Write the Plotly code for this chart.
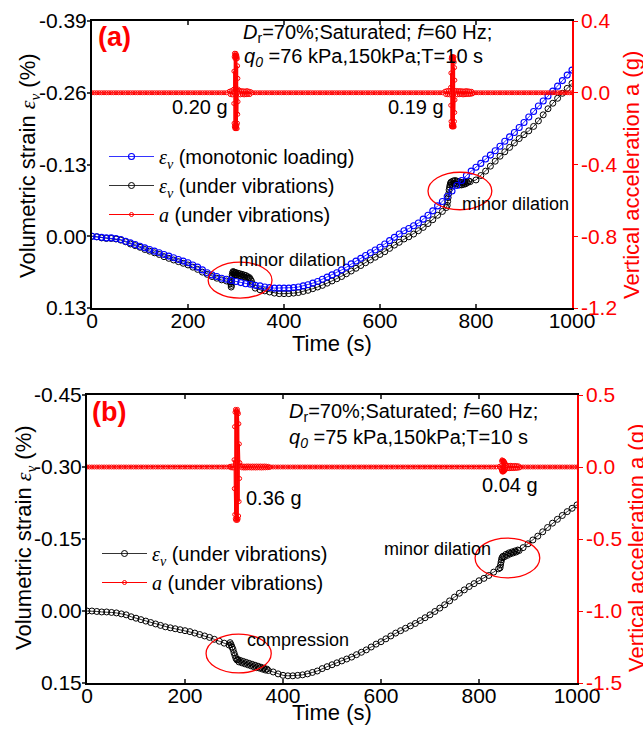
import plotly.graph_objects as go

W, H = 643, 734
FONT = "Liberation Sans, Arial, sans-serif"
EPS = '<span style="font-family:Liberation Serif;font-style:italic">ε<sub>v</sub></span>'
A_I = '<span style="font-family:Liberation Serif;font-style:italic">a</span>'

# ================= DATA =================
# ---- panel (a) ----
t_a_mono = list(range(0, 1001, 10))
eps_a_mono = [
    0.000, 0.001, 0.002, 0.003, 0.003, 0.004, 0.006, 0.009, 0.012, 0.015,
    0.018, 0.021, 0.024, 0.027, 0.030, 0.033, 0.036, 0.039, 0.042, 0.045,
    0.048, 0.052, 0.056, 0.061, 0.066, 0.070, 0.073, 0.076, 0.078, 0.080,
    0.082, 0.084, 0.086, 0.087, 0.089, 0.090, 0.092, 0.093, 0.094, 0.094,
    0.094, 0.094, 0.093, 0.092, 0.090, 0.088, 0.085, 0.082, 0.078, 0.074,
    0.070, 0.066, 0.061, 0.056, 0.050, 0.045, 0.040, 0.035, 0.030, 0.025,
    0.020, 0.014, 0.008, 0.002, -0.004, -0.010, -0.014, -0.019, -0.024, -0.031,
    -0.038, -0.046, -0.055, -0.063, -0.072, -0.082, -0.092, -0.101, -0.110, -0.118,
    -0.125, -0.132, -0.140, -0.147, -0.155, -0.163, -0.172, -0.180, -0.188, -0.197,
    -0.206, -0.216, -0.226, -0.236, -0.245, -0.254, -0.263, -0.272, -0.282, -0.292,
    -0.301]

t_a_vib_1 = list(range(0, 281, 10))
eps_a_vib_1 = [0.000, 0.001, 0.003, 0.004, 0.004, 0.005, 0.007, 0.010, 0.014, 0.017,
               0.020, 0.024, 0.027, 0.030, 0.033, 0.037, 0.040, 0.043, 0.046, 0.049,
               0.052, 0.056, 0.060, 0.065, 0.069, 0.073, 0.076, 0.079, 0.081]
t_a_blob_1 = [288, 289, 290, 290.5, 291, 291.5, 292, 293, 294, 295, 296, 297, 298, 299, 300,
              302, 304, 306, 308, 310, 312, 314, 316, 318, 320, 322, 324, 326, 328, 330, 332, 334]
eps_a_blob_1 = [0.083, 0.086, 0.092, 0.089, 0.082, 0.075, 0.070, 0.066, 0.064, 0.068, 0.065,
                0.069, 0.066, 0.070, 0.066, 0.070, 0.067, 0.071, 0.068, 0.072, 0.069, 0.073,
                0.070, 0.074, 0.071, 0.075, 0.073, 0.076, 0.075, 0.078, 0.081, 0.086]
t_a_vib_2 = list(range(340, 731, 10))
eps_a_vib_2 = [0.094, 0.097, 0.099, 0.101, 0.103, 0.104, 0.104, 0.104, 0.103, 0.102,
               0.100, 0.098, 0.095, 0.092, 0.089, 0.085, 0.081, 0.077, 0.073, 0.068,
               0.063, 0.058, 0.053, 0.048, 0.043, 0.038, 0.033, 0.028, 0.022, 0.016,
               0.011, 0.005, 0.001, -0.004, -0.010, -0.016, -0.023, -0.030, -0.038, -0.045]
t_a_blob_2 = [738, 740, 741, 742, 743, 744, 745, 746, 747, 748, 750, 752, 754, 756, 758,
              760, 762, 764, 766, 768, 770, 772, 774, 776, 778, 780, 782, 785, 788]
eps_a_blob_2 = [-0.052, -0.056, -0.063, -0.070, -0.077, -0.084, -0.089, -0.093, -0.096, -0.098,
                -0.094, -0.100, -0.096, -0.101, -0.095, -0.100, -0.094, -0.099, -0.093, -0.098,
                -0.093, -0.097, -0.094, -0.098, -0.095, -0.099, -0.097, -0.100, -0.099]
t_a_vib_3 = list(range(800, 1001, 10))
eps_a_vib_3 = [-0.102, -0.110, -0.118, -0.127, -0.136, -0.145, -0.153, -0.161, -0.169, -0.177,
               -0.184, -0.191, -0.199, -0.209, -0.220, -0.231, -0.241, -0.250, -0.259, -0.268,
               -0.277]

# acceleration (g), panel (a)
t_a_spike_1 = [295 + 0.3 * i for i in range(33)]
acc_a_spike_1 = [0.02, -0.06, 0.12, -0.17, 0.20, -0.19, 0.22, -0.18, 0.21, -0.20, 0.19,
                 -0.19, 0.21, -0.20, 0.20, -0.18, 0.22, -0.19, 0.20, -0.20, 0.19, -0.19,
                 0.21, -0.18, 0.20, -0.20, 0.19, -0.17, 0.15, -0.12, 0.08, -0.05, 0.02]
t_a_band_1 = [286, 288, 290, 292, 307, 309, 311, 313, 315, 317, 319, 321, 323, 325, 327, 329, 331]
acc_a_band_1 = [0.008, -0.010, 0.012, -0.012, 0.014, -0.012, 0.012, -0.010, 0.011, -0.012,
                0.010, -0.011, 0.012, -0.010, 0.009, -0.010, 0.006]
t_a_spike_2 = [747 + 0.3 * i for i in range(33)]
acc_a_spike_2 = [0.03, -0.07, 0.11, -0.16, 0.19, -0.18, 0.20, -0.19, 0.19, -0.18, 0.20,
                 -0.19, 0.18, -0.19, 0.20, -0.17, 0.19, -0.19, 0.20, -0.18, 0.19, -0.19,
                 0.18, -0.18, 0.20, -0.19, 0.17, -0.16, 0.14, -0.11, 0.07, -0.04, 0.01]
t_a_band_2 = [735, 737, 739, 741, 743, 745, 759, 761, 763, 765, 767, 769, 771, 773, 775,
              777, 779, 781, 783, 785, 787, 789, 791, 793]
acc_a_band_2 = [0.008, -0.010, 0.012, -0.011, 0.013, -0.012, 0.013, -0.012, 0.012, -0.011,
                0.012, -0.010, 0.011, -0.012, 0.010, -0.011, 0.012, -0.010, 0.011, -0.010,
                0.009, -0.009, 0.008, -0.006]

# ---- panel (b) ----
t_b_vib_1 = list(range(0, 291, 10))
eps_b_vib_1 = [0.000, 0.000, 0.001, 0.002, 0.002, 0.003, 0.004, 0.006, 0.008, 0.012,
               0.015, 0.018, 0.021, 0.024, 0.027, 0.030, 0.033, 0.035, 0.037, 0.039,
               0.041, 0.043, 0.046, 0.049, 0.052, 0.055, 0.059, 0.063, 0.067, 0.071]
t_b_blob_1 = [292, 294, 296, 298, 300, 302, 304, 306, 308, 310, 313, 316, 319, 322, 325,
              328, 331, 334, 337, 340, 343, 346, 349, 352, 355, 358, 361, 364, 367, 370]
eps_b_blob_1 = [0.066, 0.070, 0.075, 0.080, 0.087, 0.093, 0.099, 0.102, 0.101, 0.106, 0.103,
                0.108, 0.105, 0.110, 0.107, 0.112, 0.109, 0.114, 0.111, 0.116, 0.113, 0.118,
                0.115, 0.119, 0.117, 0.121, 0.119, 0.123, 0.121, 0.124]
t_b_vib_2 = list(range(380, 841, 10))
eps_b_vib_2 = [0.127, 0.131, 0.134, 0.135, 0.135, 0.134, 0.133, 0.131, 0.128, 0.125,
               0.120, 0.116, 0.112, 0.108, 0.104, 0.100, 0.096, 0.091, 0.086, 0.081,
               0.075, 0.069, 0.064, 0.058, 0.052, 0.046, 0.041, 0.036, 0.031, 0.026,
               0.020, 0.014, 0.008, 0.001, -0.006, -0.013, -0.021, -0.029, -0.037, -0.044,
               -0.051, -0.057, -0.063, -0.068, -0.074, -0.081, -0.088]
t_b_blob_2 = [843, 844, 845, 846, 847, 849, 852, 855, 858, 861, 864, 867, 870, 873, 876, 879, 882]
eps_b_blob_2 = [-0.090, -0.096, -0.102, -0.107, -0.111, -0.114, -0.113, -0.118, -0.116, -0.121,
                -0.119, -0.123, -0.121, -0.125, -0.123, -0.127, -0.126]
t_b_vib_3 = list(range(890, 1001, 10))
eps_b_vib_3 = [-0.132, -0.140, -0.148, -0.156, -0.165, -0.174, -0.183, -0.191, -0.199,
               -0.207, -0.214, -0.221]

t_b_spike_1 = [300 + 0.5 * i for i in range(25)]
acc_b_spike_1 = [0.05, -0.15, 0.28, -0.33, 0.38, -0.36, 0.40, -0.37, 0.39, -0.35, 0.38,
                 -0.37, 0.39, -0.36, 0.40, -0.37, 0.38, -0.36, 0.37, -0.34, 0.30, -0.24,
                 0.16, -0.08, 0.03]
t_b_band_1 = [292, 294, 296, 298] + list(range(314, 373, 2))
acc_b_band_1 = [0.005, -0.006, 0.007, -0.007,
                0.007, -0.006, 0.007, -0.007, 0.006, -0.007, 0.007, -0.006, 0.007, -0.006,
                0.006, -0.007, 0.007, -0.006, 0.006, -0.007, 0.007, -0.006, 0.006, -0.006,
                0.007, -0.007, 0.006, -0.006, 0.007, -0.006, 0.006, -0.005, 0.005, -0.004]
t_b_spike_2 = [845 + 0.5 * i for i in range(21)]
acc_b_spike_2 = [0.01, -0.02, 0.04, -0.03, 0.05, -0.035, 0.045, -0.03, 0.04, -0.035, 0.045,
                 -0.03, 0.04, -0.03, 0.035, -0.025, 0.03, -0.02, 0.02, -0.015, 0.01]
t_b_band_2 = [841, 843] + list(range(857, 885, 2))
acc_b_band_2 = [0.004, -0.005, 0.012, -0.012, 0.011, -0.012, 0.012, -0.011, 0.010, -0.011,
                0.011, -0.010, 0.010, -0.009, 0.008, -0.006]

# ticks
x_ticks = [0, 200, 400, 600, 800, 1000]
ya_ticks = [-0.39, -0.26, -0.13, 0.00, 0.13]
ya_text = ['-0.39', '-0.26', '-0.13', '0.00', '0.13']
aa_ticks = [0.4, 0.0, -0.4, -0.8, -1.2]
aa_text = ['0.4', '0.0', '-0.4', '-0.8', '-1.2']
yb_ticks = [-0.45, -0.30, -0.15, 0.00, 0.15]
yb_text = ['-0.45', '-0.30', '-0.15', '0.00', '0.15']
ab_ticks = [0.5, 0.0, -0.5, -1.0, -1.5]
ab_text = ['0.5', '0.0', '-0.5', '-1.0', '-1.5']

# ================= BUILD =================
def cat(*pairs):
    xs, ys = [], []
    for tt, vv in pairs:
        assert len(tt) == len(vv), (len(tt), len(vv))
        xs += list(tt)
        ys += list(vv)
    return xs, ys


def accel(bands, step=5):
    pts = []
    for tt, vv in bands:
        assert len(tt) == len(vv), (len(tt), len(vv))
        pts += list(zip(tt, vv))
    spans = [(min(tt) - 1, max(tt) + 1) for tt, _ in bands]
    for t in range(0, 1001, step):
        if not any(lo <= t <= hi for lo, hi in spans):
            pts.append((t, 0.0))
    pts.sort(key=lambda p: p[0])
    return [p[0] for p in pts], [p[1] for p in pts]


xa_vib, ya_vib = cat((t_a_vib_1, eps_a_vib_1), (t_a_blob_1, eps_a_blob_1),
                     (t_a_vib_2, eps_a_vib_2), (t_a_blob_2, eps_a_blob_2),
                     (t_a_vib_3, eps_a_vib_3))
xb_vib, yb_vib = cat((t_b_vib_1, eps_b_vib_1), (t_b_blob_1, eps_b_blob_1),
                     (t_b_vib_2, eps_b_vib_2), (t_b_blob_2, eps_b_blob_2),
                     (t_b_vib_3, eps_b_vib_3))
assert len(t_a_mono) == len(eps_a_mono)
xa_acc, ya_acc = accel([(t_a_band_1, acc_a_band_1), (t_a_spike_1, acc_a_spike_1),
                        (t_a_band_2, acc_a_band_2), (t_a_spike_2, acc_a_spike_2)])
xb_acc, yb_acc = accel([(t_b_band_1, acc_b_band_1), (t_b_spike_1, acc_b_spike_1),
                        (t_b_band_2, acc_b_band_2), (t_b_spike_2, acc_b_spike_2)])


def px(x):
    return x / W


def py(y):
    return 1 - y / H


fig = go.Figure()

blk = dict(mode='lines+markers', line=dict(color='black', width=0.8),
           marker=dict(symbol='circle-open', size=6, color='black', line=dict(width=1)))
blu = dict(mode='lines+markers', line=dict(color='#0000ff', width=0.8),
           marker=dict(symbol='circle-open', size=6, color='#0000ff', line=dict(width=1.1)))
red = dict(mode='lines+markers', line=dict(color='#ff0000', width=1),
           marker=dict(symbol='circle-open', size=4, color='#ff0000', line=dict(width=1)))

fig.add_trace(go.Scatter(x=xa_vib, y=ya_vib, name=EPS + ' (under vibrations)',
                         xaxis='x', yaxis='y', legend='legend', legendrank=2, **blk))
fig.add_trace(go.Scatter(x=t_a_mono, y=eps_a_mono, name=EPS + ' (monotonic loading)',
                         xaxis='x', yaxis='y', legend='legend', legendrank=1, **blu))
fig.add_trace(go.Scatter(x=xa_acc, y=ya_acc, name=A_I + ' (under vibrations)',
                         xaxis='x', yaxis='y2', legend='legend', legendrank=3, **red))
fig.add_trace(go.Scatter(x=xb_vib, y=yb_vib, name=EPS + ' (under vibrations)',
                         xaxis='x2', yaxis='y3', legend='legend2', legendrank=1, **blk))
fig.add_trace(go.Scatter(x=xb_acc, y=yb_acc, name=A_I + ' (under vibrations)',
                         xaxis='x2', yaxis='y4', legend='legend2', legendrank=2, **red))

tickfont = dict(size=21, color='black', family=FONT)
redfont = dict(size=21, color='#ff0000', family=FONT)
xcommon = dict(range=[0, 1000], tickvals=x_ticks, ticks='inside', ticklen=4, tickwidth=1.5,
               showline=True, linecolor='black', linewidth=2, mirror='ticks',
               showgrid=False, zeroline=False, tickfont=tickfont, ticklabelstandoff=-7)
ycommon = dict(ticks='outside', ticklen=3, tickwidth=1.5, showline=True, linecolor='black',
               linewidth=2, showgrid=False, zeroline=False, tickfont=tickfont,
               ticklabelstandoff=-4)
rcommon = dict(ticks='outside', ticklen=4, tickwidth=1.2, tickcolor='#ff0000', showline=True,
               linecolor='#ff0000', linewidth=1.5, showgrid=False, zeroline=False,
               tickfont=redfont, side='right', ticklabelstandoff=-1)

fig.update_layout(
    width=W, height=H, margin=dict(l=0, r=0, t=0, b=0, autoexpand=False),
    paper_bgcolor='white', plot_bgcolor='white',
    font=dict(family=FONT, color='black'),
    xaxis=dict(domain=[px(92), px(572)], anchor='y', **xcommon),
    yaxis=dict(domain=[py(308), py(21)], anchor='x', range=[0.13, -0.39],
               tickvals=ya_ticks, ticktext=ya_text, **ycommon),
    yaxis2=dict(overlaying='y', anchor='x', range=[-1.2, 0.4], tickvals=aa_ticks,
                ticktext=aa_text, **rcommon),
    xaxis2=dict(domain=[px(87), px(577)], anchor='y3', **xcommon),
    yaxis3=dict(domain=[py(683), py(395)], anchor='x2', range=[0.15, -0.45],
                tickvals=yb_ticks, ticktext=yb_text, **ycommon),
    yaxis4=dict(overlaying='y3', anchor='x2', range=[-1.5, 0.5], tickvals=ab_ticks,
                ticktext=ab_text, **rcommon),
    legend=dict(x=px(104), y=py(137), xanchor='left', yanchor='top',
                bgcolor='rgba(0,0,0,0)', font=dict(size=20, family=FONT),
                itemwidth=45, tracegroupgap=0),
    legend2=dict(x=px(97), y=py(534), xanchor='left', yanchor='top',
                 bgcolor='rgba(0,0,0,0)', font=dict(size=20, family=FONT),
                 itemwidth=45, tracegroupgap=0),
    showlegend=True,
)

# ellipses
ell = dict(type='circle', line=dict(color='#ff0000', width=1.3), fillcolor='rgba(0,0,0,0)')
fig.add_shape(xref='x', yref='y', x0=242, x1=375, y0=0.047, y1=0.112, **ell)
fig.add_shape(xref='x', yref='y', x0=700, x1=833, y0=-0.116, y1=-0.048, **ell)
fig.add_shape(xref='x2', yref='y3', x0=243, x1=376, y0=0.048, y1=0.129, **ell)
fig.add_shape(xref='x2', yref='y3', x0=792, x1=924, y0=-0.152, y1=-0.069, **ell)


def ann(text, x, y, size=20, color='black', xanchor='center', angle=0):
    fig.add_annotation(text=text, x=px(x), y=py(y), xref='paper', yref='paper',
                       xanchor=xanchor, yanchor='middle', showarrow=False,
                       textangle=angle, font=dict(size=size, color=color, family=FONT))


# panel labels and notes
ann('<b>(a)</b>', 114, 37, size=27, color='#ff0000')
ann('<b>(b)</b>', 109, 412, size=27, color='#ff0000')
ann('<i>D</i><sub>r</sub>=70%;Saturated; <i>f</i>=60 Hz;', 241, 33, xanchor='left')
ann('<i>q<sub>0</sub></i> =76 kPa,150kPa;T=10 s', 242, 58, xanchor='left')
ann('<i>D</i><sub>r</sub>=70%;Saturated; <i>f</i>=60 Hz;', 287, 412, xanchor='left')
ann('<i>q<sub>0</sub></i> =75 kPa,150kPa;T=10 s', 287, 438, xanchor='left')
ann('0.20 g', 200, 107)
ann('0.19 g', 416, 107)
ann('0.36 g', 274, 498)
ann('0.04 g', 510, 485)
ann('minor dilation', 292, 260, size=18)
ann('minor dilation', 515, 204, size=18)
ann('compression', 298, 640, size=18)
ann('minor dilation', 437, 549, size=18)

# axis titles
ann('Volumetric strain ' + EPS + ' (%)', 29, 166, size=22, angle=-90)
ann('Volumetric strain ' + EPS + ' (%)', 25, 538, size=22, angle=-90)
ann('Time (s)', 332, 343, size=22)
ann('Time (s)', 332, 712, size=22)
ann('Vertical acceleration a (g)', 631, 175, size=22, color='#ff0000', angle=-90)
ann('Vertical acceleration a (g)', 636, 548, size=22, color='#ff0000', angle=-90)

fig.write_html("out.html")
